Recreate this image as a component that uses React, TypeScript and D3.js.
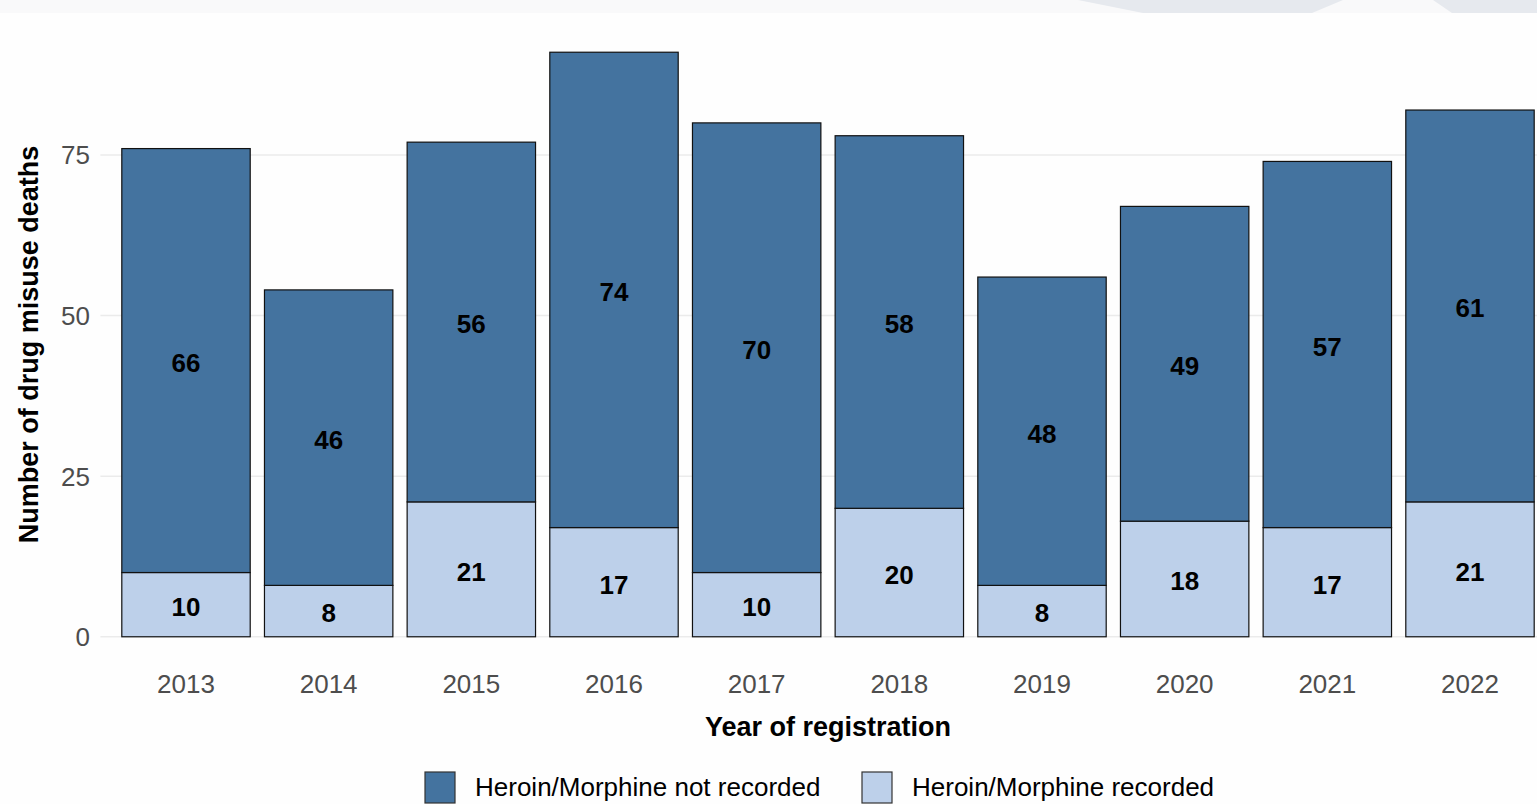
import React from "react";
import * as d3 from "d3";

const years = ["2013", "2014", "2015", "2016", "2017", "2018", "2019", "2020", "2021", "2022"];
const recorded = [10, 8, 21, 17, 10, 20, 8, 18, 17, 21];
const notRecorded = [66, 46, 56, 74, 70, 58, 48, 49, 57, 61];
const yTicks = [0, 25, 50, 75];
const seriesNames = ["Heroin/Morphine not recorded", "Heroin/Morphine recorded"];

const W = 1537;
const H = 804;
const DARK = "#44739f";
const LIGHT = "#bdd0ea";
const FONT = "'Liberation Sans', Arial, sans-serif";

export default function App() {
  const totals = years.map((_, i) => recorded[i] + notRecorded[i]);
  const maxT = d3.max(totals) as number;
  const panelLeft = 100.4;
  const y = d3.scaleLinear().domain([-0.05 * maxT, maxT * 1.05]).range([666, 23]);
  const x = d3
    .scaleBand()
    .domain(years)
    .range([114.67, 1541.33])
    .paddingInner(0.1)
    .paddingOuter(0.05);

  const stacked = years.map((yr, i) => ({
    yr,
    segs: [
      { key: "rec", y0: 0, y1: recorded[i], v: recorded[i], fill: LIGHT },
      { key: "not", y0: recorded[i], y1: recorded[i] + notRecorded[i], v: notRecorded[i], fill: DARK },
    ],
  }));

  return (
    <svg width={W} height={H} style={{ position: "absolute", left: 0, top: 0, background: "#fefefe" }} fontFamily={FONT}>
      <rect x={0} y={0} width={W} height={13} fill="#f9f9fa" />
      <polygon points="1078,0 1343,0 1312,13 1143,13" fill="#e6e9ee" />
      <polygon points="1433,0 1537,0 1537,13 1452,13" fill="#e6e9ee" />
      {yTicks.map((t) => (
        <g key={t}>
          <line x1={panelLeft} x2={W} y1={y(t)} y2={y(t)} stroke="#ebebeb" strokeWidth={1.5} />
          <text x={90} y={y(t)} dy="0.36em" textAnchor="end" fontSize={26} fill="#4d4d4d">
            {t}
          </text>
        </g>
      ))}
      {stacked.map((d) => (
        <g key={d.yr}>
          {d.segs.map((s) => (
            <g key={s.key}>
              <rect
                x={x(d.yr)}
                width={x.bandwidth()}
                y={y(s.y1)}
                height={y(s.y0) - y(s.y1)}
                fill={s.fill}
                stroke="#111"
                strokeWidth={1.2}
              />
              <text
                x={(x(d.yr) as number) + x.bandwidth() / 2}
                y={y((s.y0 + s.y1) / 2) + 2}
                dy="0.36em"
                textAnchor="middle"
                fontSize={26}
                fontWeight="bold"
                fill="#000"
              >
                {s.v}
              </text>
            </g>
          ))}
          <text
            x={(x(d.yr) as number) + x.bandwidth() / 2}
            y={684}
            dy="0.36em"
            textAnchor="middle"
            fontSize={26}
            fill="#4d4d4d"
          >
            {d.yr}
          </text>
        </g>
      ))}
      <text x={828} y={726} dy="0.36em" textAnchor="middle" fontSize={27} fontWeight="bold" fill="#000">
        Year of registration
      </text>
      <text
        transform={`translate(28,${(y(y.domain()[0]) + y(y.domain()[1])) / 2}) rotate(-90)`}
        dy="0.36em"
        textAnchor="middle"
        fontSize={27}
        fontWeight="bold"
        fill="#000"
      >
        Number of drug misuse deaths
      </text>
      <g>
        <rect x={425} y={772} width={30} height={31} fill={DARK} stroke="#333" strokeWidth={1.2} />
        <text x={475} y={787} dy="0.36em" fontSize={26} fill="#000">
          {seriesNames[0]}
        </text>
        <rect x={862} y={772} width={30} height={31} fill={LIGHT} stroke="#333" strokeWidth={1.2} />
        <text x={912} y={787} dy="0.36em" fontSize={26} fill="#000">
          {seriesNames[1]}
        </text>
      </g>
    </svg>
  );
}
